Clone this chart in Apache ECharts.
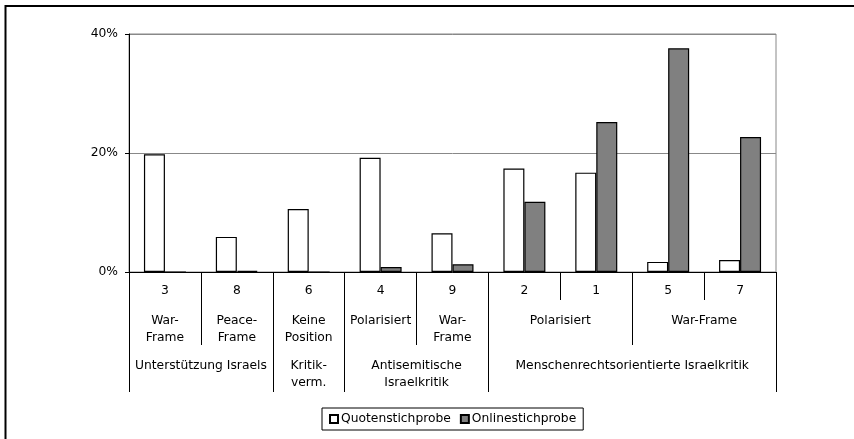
<!DOCTYPE html>
<html>
<head>
<meta charset="utf-8">
<script src="https://cdn.jsdelivr.net/npm/echarts@6/dist/echarts.min.js"></script>
<style>
html,body{margin:0;padding:0;background:#fff;}
#chart{width:854px;height:439px;}
</style>
</head>
<body>
<div id="chart"></div>
<script>
// ---- data ----
const codes = ['3', '8', '6', '4', '9', '2', '1', '5', '7'];
const quotenstichprobe = [19.8, 5.9, 10.6, 19.2, 6.5, 17.4, 16.7, 1.7, 2.0];
const onlinestichprobe = [0, 0.2, 0, 0.85, 1.3, 11.8, 25.2, 37.6, 22.7];
const subLabels = ['War-\nFrame', 'Peace-\nFrame', 'Keine\nPosition', 'Polarisiert', 'War-\nFrame', 'Polarisiert', 'War-Frame'];
const subSpans = [1, 1, 1, 1, 1, 2, 2];
const groupLabels = ['Unterstützung Israels', 'Kritik-\nverm.', 'Antisemitische\nIsraelkritik', 'Menschenrechtsorientierte Israelkritik'];
const groupSpans = [2, 1, 2, 4];
const yTicks = ['0%', '20%', '40%'];
const seriesNames = ['Quotenstichprobe', 'Onlinestichprobe'];

// Build half-slot axes (2 slots per category, boundaryGap false -> positions at boundaries and centres)
function buildLevel(labels, spans) {
  const n = codes.length * 2 + 1;
  const data = new Array(n).fill('');
  const ticks = new Set([0]);
  let pos = 0;
  labels.forEach((lab, i) => {
    data[pos + spans[i]] = lab; // centre of span in half-slots
    pos += spans[i] * 2;
    ticks.add(pos);
  });
  return { data, ticks };
}
const lvl2 = buildLevel(subLabels, subSpans);
const lvl3 = buildLevel(groupLabels, groupSpans);

const FONT = 'DejaVu Sans';
const FS = 12.3;
const chart = echarts.init(document.getElementById('chart'), null, { renderer: 'canvas' });

const extraAxis = (lvl, tickLen, margin) => ({
  type: 'category',
  position: 'bottom',
  data: lvl.data,
  boundaryGap: false,
  axisLine: { show: false },
  axisTick: {
    show: true,
    length: tickLen,
    interval: (idx) => lvl.ticks.has(idx),
    lineStyle: { color: '#000', width: 1 }
  },
  axisLabel: {
    interval: 0,
    margin: margin,
    color: '#000',
    fontFamily: FONT,
    fontSize: FS,
    lineHeight: 17,
    align: 'center',
    verticalAlign: 'top'
  },
  splitLine: { show: false }
});

chart.setOption({
  animation: false,
  backgroundColor: '#fff',
  textStyle: { fontFamily: FONT },
  grid: {
    left: 129, right: 78, top: 34, bottom: 167,
    show: true, borderColor: '#888', borderWidth: 1, backgroundColor: 'transparent'
  },
  legend: {
    data: seriesNames,
    left: 322, top: 408,
    padding: [5, 7, 5, 7],
    itemGap: 9,
    itemWidth: 8, itemHeight: 8,
    icon: 'rect',
    borderColor: '#000', borderWidth: 1,
    textStyle: { color: '#000', fontFamily: FONT, fontSize: FS, padding: [0, 0, 0, -2] }
  },
  xAxis: [
    {
      type: 'category',
      data: codes,
      axisLine: { show: true, lineStyle: { color: '#000', width: 1 } },
      axisTick: { show: true, length: 28, alignWithLabel: false, lineStyle: { color: '#000', width: 1 } },
      axisLabel: { interval: 0, margin: 13, color: '#000', fontFamily: FONT, fontSize: FS },
      splitLine: { show: false }
    },
    extraAxis(lvl2, 73, 40),
    extraAxis(lvl3, 120, 85)
  ],
  yAxis: {
    type: 'value',
    min: 0, max: 40, interval: 20,
    axisLine: { show: true, lineStyle: { color: '#000', width: 1 } },
    axisTick: { show: true, length: 4, lineStyle: { color: '#000' } },
    axisLabel: {
      margin: 11, color: '#000', fontFamily: FONT, fontSize: FS,
      formatter: (v) => yTicks[Math.round(v / 20)]
    },
    splitLine: { show: true, lineStyle: { color: '#888', width: 1 } }
  },
  series: [
    {
      name: seriesNames[0], type: 'bar', xAxisIndex: 0,
      data: quotenstichprobe,
      barWidth: 21, barGap: '0%',
      itemStyle: { color: '#ffffff', borderColor: '#000', borderWidth: 1.2 }
    },
    {
      name: seriesNames[1], type: 'bar', xAxisIndex: 0,
      data: onlinestichprobe,
      barWidth: 21, barGap: '0%',
      itemStyle: { color: '#808080', borderColor: '#000', borderWidth: 1.2 }
    }
  ],
  graphic: [
    {
      type: 'polyline',
      shape: { points: [[5.5, 439], [5.5, 6], [854, 6]] },
      style: { stroke: '#000', lineWidth: 2, fill: null },
      silent: true
    }
  ]
});
</script>
</body>
</html>
